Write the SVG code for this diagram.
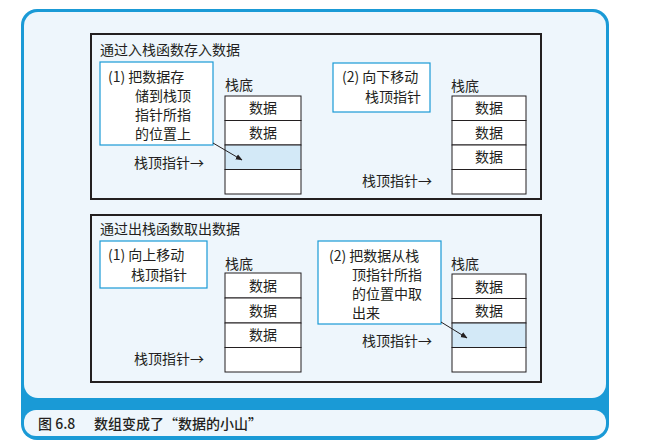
<svg xmlns="http://www.w3.org/2000/svg" width="649" height="444" viewBox="0 0 649 444">
<style>
text{font-family:"Noto Sans CJK SC","Liberation Sans",sans-serif;font-size:14px;fill:#231f20}
.panel{fill:none;stroke:#231f20;stroke-width:2}
.note{fill:#fff;stroke:#1a9ad6;stroke-width:1.2}
.cell{fill:#fff;stroke:#231f20;stroke-width:1}
.hi{fill:#d3e9f7;stroke:#231f20;stroke-width:1}
.c{text-anchor:middle}
</style>
<defs><marker id="ah" viewBox="0 0 10 10" refX="9" refY="5" markerWidth="7" markerHeight="7" orient="auto"><path d="M0,1 L10,5 L0,9 z" fill="#231f20"/></marker></defs>
<rect x="0" y="0" width="649" height="444" fill="#fff"/>
<rect x="21" y="9" width="588" height="431" rx="16" fill="#1a9ad6"/>
<rect x="24" y="12" width="582" height="386" rx="14" fill="#eef6fc"/>
<rect x="24" y="410" width="582" height="26" rx="12" fill="#eef6fc"/>
<text x="38" y="429" font-weight="500">图 6.8</text>
<text x="94" y="429" font-weight="500">数组变成了“数据的小山”</text>

<g id="panel1">
<rect class="panel" x="91" y="34" width="450" height="165"/>
<text x="100" y="55">通过入栈函数存入数据</text>
</g>
<g id="note1"><rect class="note" x="100" y="62" width="113" height="83"/>
<text x="108" y="82">(1) 把数据存</text><text x="135" y="101">储到栈顶</text><text x="135" y="120">指针所指</text><text x="135" y="139">的位置上</text></g>
<g id="stack1"><text x="225" y="90">栈底</text>
<rect class="cell" x="225" y="96" width="76" height="24.5"/><rect class="cell" x="225" y="120.5" width="76" height="24.5"/><rect class="hi" x="225" y="145" width="76" height="24.5"/><rect class="cell" x="225" y="169.5" width="76" height="24.5"/>
<text class="c" x="263" y="113">数据</text><text class="c" x="263" y="138">数据</text>
<text x="134" y="168">栈顶指针→</text></g>
<g id="note2"><rect class="note" x="333" y="63" width="97" height="49"/>
<text x="342" y="82">(2) 向下移动</text><text x="365" y="102">栈顶指针</text></g>
<g id="stack2"><text x="451" y="91">栈底</text>
<rect class="cell" x="452" y="96" width="74" height="24.5"/><rect class="cell" x="452" y="120.5" width="74" height="24.5"/><rect class="cell" x="452" y="145" width="74" height="24.5"/><rect class="cell" x="452" y="169.5" width="74" height="24.5"/>
<text class="c" x="489" y="113">数据</text><text class="c" x="489" y="138">数据</text><text class="c" x="489" y="162">数据</text>
<text x="362" y="186">栈顶指针→</text></g>

<g id="panel2">
<rect class="panel" x="91" y="215" width="450" height="167"/>
<text x="100" y="234">通过出栈函数取出数据</text>
</g>
<g id="note3"><rect class="note" x="100" y="241" width="107" height="47"/>
<text x="108" y="260">(1) 向上移动</text><text x="131" y="280">栈顶指针</text></g>
<g id="stack3"><text x="225" y="269">栈底</text>
<rect class="cell" x="225" y="273" width="76" height="25"/><rect class="cell" x="225" y="298" width="76" height="25"/><rect class="cell" x="225" y="323" width="76" height="24.5"/><rect class="cell" x="225" y="347.5" width="76" height="24.5"/>
<text class="c" x="263" y="291">数据</text><text class="c" x="263" y="316">数据</text><text class="c" x="263" y="340">数据</text>
<text x="134" y="364">栈顶指针→</text></g>
<g id="note4"><rect class="note" x="318" y="241" width="123" height="83"/>
<text x="329" y="261">(2) 把数据从栈</text><text x="352" y="280">顶指针所指</text><text x="352" y="299">的位置中取</text><text x="352" y="318">出来</text></g>
<g id="stack4"><text x="451" y="269">栈底</text>
<rect class="cell" x="452" y="274" width="74" height="24.5"/><rect class="cell" x="452" y="298.5" width="74" height="24.5"/><rect class="hi" x="452" y="323" width="74" height="24.5"/><rect class="cell" x="452" y="347.5" width="74" height="24.5"/>
<text class="c" x="489" y="292">数据</text><text class="c" x="489" y="316">数据</text>
<text x="362" y="346">栈顶指针→</text></g>

<g id="connectors" stroke="#231f20" stroke-width="1">
<line x1="213" y1="143" x2="242" y2="160" marker-end="url(#ah)"/>
<line x1="441" y1="322" x2="467" y2="338" marker-end="url(#ah)"/>
</g>
</svg>
